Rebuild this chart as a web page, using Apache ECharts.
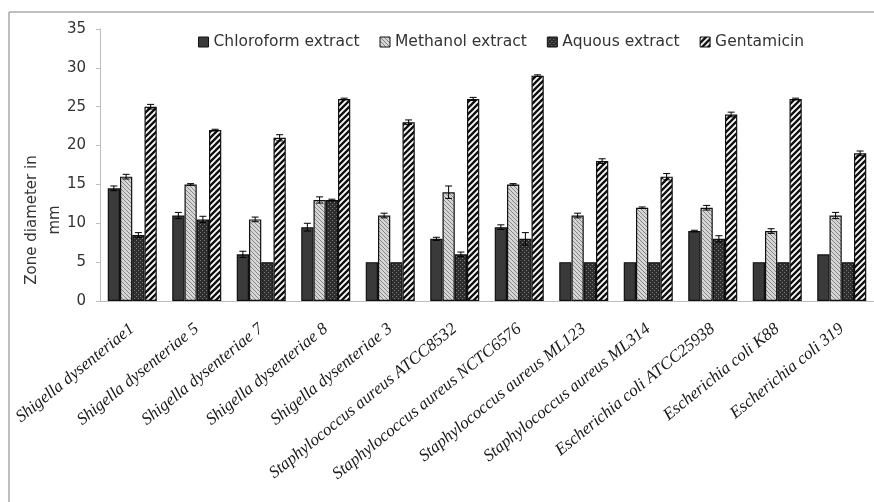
<!DOCTYPE html>
<html><head><meta charset="utf-8">
<script src="https://cdn.jsdelivr.net/npm/echarts@6/dist/echarts.min.js"></script>
<style>html,body{margin:0;padding:0;background:#fff}#c{width:874px;height:502px}</style>
</head><body><div id="c"></div>
<script>
const categories = ["Shigella dysenteriae1","Shigella dysenteriae 5","Shigella dysenteriae 7","Shigella dysenteriae 8","Shigella dysenteriae 3","Staphylococcus aureus ATCC8532","Staphylococcus aureus NCTC6576","Staphylococcus aureus ML123","Staphylococcus aureus ML314","Escherichia coli ATCC25938","Escherichia coli K88","Escherichia coli 319"];
const seriesNames = ["Chloroform extract","Methanol extract","Aquous extract","Gentamicin"];
const chloroform = [14.5, 11, 6, 9.5, 5, 8, 9.5, 5, 5, 9, 5, 6];
const methanol   = [16, 15, 10.5, 13, 11, 14, 15, 11, 12, 12, 9, 11];
const aquous     = [8.5, 10.5, 5, 13, 5, 6, 8, 5, 5, 8, 5, 5];
const gentamicin = [25, 22, 21, 26, 23, 26, 29, 18, 16, 24, 26, 19];
const chloroformErr = [0.3, 0.4, 0.4, 0.5, 0, 0.2, 0.3, 0, 0, 0.1, 0, 0];
const methanolErr   = [0.3, 0.1, 0.3, 0.4, 0.3, 0.8, 0.1, 0.3, 0.1, 0.3, 0.3, 0.4];
const aquousErr     = [0.3, 0.4, 0, 0.1, 0, 0.3, 0.8, 0, 0, 0.4, 0, 0];
const gentamicinErr = [0.3, 0.1, 0.4, 0.1, 0.3, 0.2, 0.1, 0.3, 0.4, 0.3, 0.1, 0.3];
const yTicks = [0, 5, 10, 15, 20, 25, 30, 35];

function pat(size, draw){const c=document.createElement('canvas');c.width=size;c.height=size;const g=c.getContext('2d');draw(g,size);return {image:c,repeat:'repeat'};}
const pChl = '#3a3a3a';
const pMeth = pat(4,(g,s)=>{g.fillStyle='#d6d6d6';g.fillRect(0,0,s,s);g.strokeStyle='#858585';g.lineWidth=1;g.beginPath();g.moveTo(-1,-1);g.lineTo(s+1,s+1);g.moveTo(-1,s-1);g.lineTo(1,s+1);g.moveTo(s-1,-1);g.lineTo(s+1,1);g.stroke();});
const pAq = pat(4,(g,s)=>{g.fillStyle='#2e2e2e';g.fillRect(0,0,s,s);g.fillStyle='#7a7a7a';g.fillRect(0,0,1,1);g.fillRect(2,2,1,1);});
const pGen = pat(6,(g,s)=>{g.fillStyle='#ffffff';g.fillRect(0,0,s,s);g.strokeStyle='#111';g.lineWidth=2.4;g.beginPath();for(let k=-1;k<=2;k++){g.moveTo(k*s-1, s+1);g.lineTo(k*s+s+1,-1);}g.stroke();});
const fills=[pChl,pMeth,pAq,pGen];
const vals=[chloroform,methanol,aquous,gentamicin];
const errs=[chloroformErr,methanolErr,aquousErr,gentamicinErr];
const CAT_GAP=0.24;

const series = seriesNames.map((n,k)=>({
  name:n, type:'bar', data:vals[k], barGap:'0%', barCategoryGap:(CAT_GAP*100)+'%',
  itemStyle:{color:fills[k], borderColor:'#111', borderWidth:1.2}
}));
const errData=[];
for(let k=0;k<4;k++){for(let i=0;i<categories.length;i++){errData.push([i, vals[k][i], errs[k][i], k]);}}
series.push({
  type:'custom', name:'err', data:errData, z:5, silent:true,
  renderItem:function(params, api){
    const i=api.value(0), v=api.value(1), e=api.value(2), k=api.value(3);
    if(!e) return null;
    const band=api.size([1,0])[0];
    const bw=band*(1-CAT_GAP)/4;
    const c=api.coord([i,v]);
    const x=c[0]+(k-1.5)*bw;
    const yt=api.coord([i,v+e])[1], yb=api.coord([i,v-e])[1];
    const st={stroke:'#000',lineWidth:1};
    return {type:'group',children:[
      {type:'line',shape:{x1:x,y1:yt,x2:x,y2:yb},style:st},
      {type:'line',shape:{x1:x-3.5,y1:yt,x2:x+3.5,y2:yt},style:st},
      {type:'line',shape:{x1:x-3.5,y1:yb,x2:x+3.5,y2:yb},style:st}
    ]};
  }
});

const chart=echarts.init(document.getElementById('c'));
chart.setOption({
  animation:false,
  backgroundColor:'#fff',
  legend:{data:seriesNames, top:29, left:193, itemWidth:10, itemHeight:10, itemGap:20, icon:'rect',
    textStyle:{fontFamily:'DejaVu Sans', fontSize:15.5, color:'#333'},
    itemStyle:{borderColor:'#111',borderWidth:1}},
  grid:{left:100, top:29, height:272, width:777},
  xAxis:{type:'category', data:categories,
    axisLine:{lineStyle:{color:'#bdbdbd',width:1}}, axisTick:{show:false},
    axisLabel:{interval:0, rotate:39, margin:26, fontFamily:'Liberation Serif', fontStyle:'italic', fontSize:17, color:'#1a1a1a'}},
  yAxis:{type:'value', min:yTicks[0], max:yTicks[yTicks.length-1], interval:5,
    splitLine:{show:false},
    axisLine:{show:true, lineStyle:{color:'#bdbdbd'}},
    axisTick:{show:true, length:4, lineStyle:{color:'#bdbdbd'}},
    axisLabel:{margin:14, fontFamily:'DejaVu Sans', fontSize:15, color:'#333'}},
  graphic:[
    {type:'line', shape:{x1:9,y1:12,x2:874,y2:12}, style:{stroke:'#a8a8a8',lineWidth:1.5}, silent:true},
    {type:'line', shape:{x1:9,y1:12,x2:9,y2:502}, style:{stroke:'#a8a8a8',lineWidth:1.5}, silent:true},
    {type:'text', x:44, y:220, rotation:Math.PI/2, style:{text:'Zone diameter in\nmm', fontFamily:'DejaVu Sans', fontSize:15, fill:'#333', align:'center', verticalAlign:'middle', lineHeight:23}}
  ],
  series:series
});
</script></body></html>
